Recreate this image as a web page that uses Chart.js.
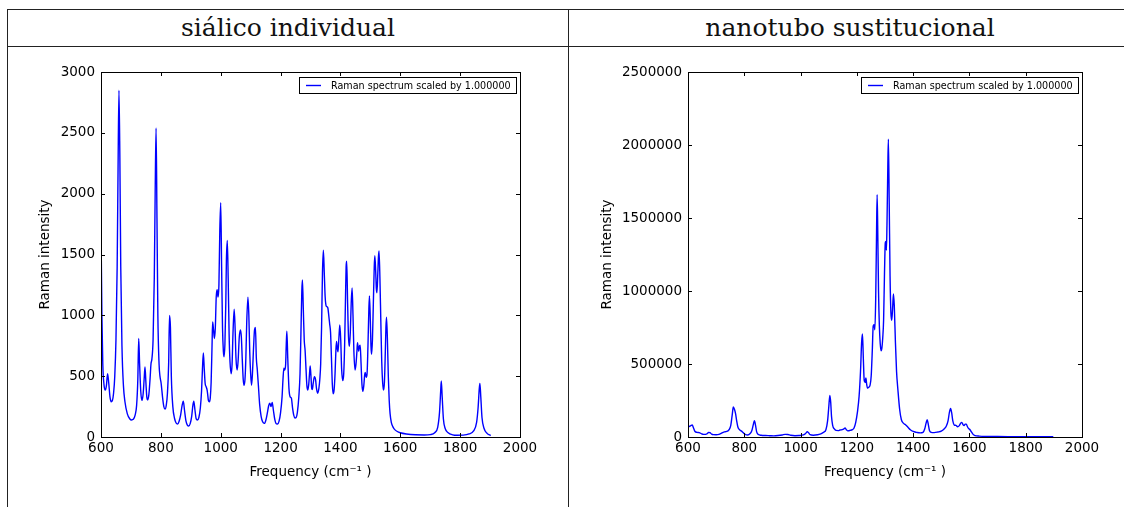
<!DOCTYPE html>
<html lang="es">
<head>
<meta charset="UTF-8">
<title>Espectros Raman</title>
<script src="https://cdn.jsdelivr.net/npm/chart.js"></script>
<style>
  body { margin: 0; width: 1124px; height: 507px; overflow: hidden; background: #fff; position: relative; }
  .rule { position: absolute; background: #222; }
  .head { position: absolute; top: 9px; height: 37px; line-height: 37px; text-align: center;
          font-family: "DejaVu Serif", serif; font-size: 25px; color: #111; }
  canvas { position: absolute; top: 47px; }
</style>
</head>
<body>
<div class="rule" style="left:7px;top:9px;width:1117px;height:1px"></div>
<div class="rule" style="left:7px;top:46px;width:1117px;height:1px"></div>
<div class="rule" style="left:7px;top:9px;width:1px;height:498px"></div>
<div class="rule" style="left:568px;top:9px;width:1px;height:498px"></div>
<div class="head" style="left:8px;width:560px">siálico individual</div>
<div class="head" style="left:569px;width:562px">nanotubo sustitucional</div>

<canvas id="left" width="559" height="460" style="left:8px"></canvas>
<canvas id="right" width="555" height="460" style="left:569px"></canvas>

<script>
// valores: siálico individual
const freqLeft = [600,603,606,610,614,618,622,626,630,634,638,642,646,650,654,657,660,663,666,670,675,680,688,696,702,708,714,719,723,726,729,733,737,741,744,747,750,753,756,760,764,767,770,774,778,781,784,787,790,794,797,801,806,810,814,818,822,826,829,832,835,840,846,851,856,861,866,871,875,879,884,889,893,898,903,907,910,914,918,922,927,932,936,939,942,945,948,951,955,959,962,965,968,971,973,976,979,982,985,988,991,994,997,1000,1003,1006,1009,1011,1014,1017,1019,1022,1025,1028,1031,1035,1038,1041,1045,1048,1051,1055,1058,1062,1066,1069,1072,1075,1078,1081,1084,1087,1091,1094,1097,1100,1103,1106,1110,1113,1116,1119,1122,1126,1130,1135,1140,1146,1151,1156,1160,1164,1168,1172,1176,1181,1186,1190,1195,1200,1205,1208,1211,1214,1217,1219,1221,1224,1228,1232,1236,1240,1244,1248,1252,1256,1261,1265,1268,1271,1273,1276,1279,1282,1285,1288,1291,1294,1297,1299,1302,1304,1306,1309,1313,1317,1320,1324,1328,1331,1334,1337,1340,1343,1346,1349,1352,1355,1358,1361,1364,1367,1370,1373,1376,1379,1382,1385,1387,1390,1392,1395,1398,1401,1404,1408,1411,1414,1417,1419,1421,1424,1427,1430,1433,1436,1439,1442,1445,1449,1452,1455,1457,1459,1461,1463,1466,1469,1472,1475,1478,1481,1483,1486,1489,1492,1495,1497,1500,1502,1504,1507,1510,1513,1515,1518,1520,1522,1525,1527,1529,1532,1535,1538,1541,1544,1547,1550,1552,1554,1557,1560,1563,1566,1570,1575,1580,1590,1600,1620,1650,1680,1700,1715,1725,1731,1735,1737,1740,1744,1750,1760,1775,1790,1810,1830,1845,1855,1860,1864,1866,1869,1873,1880,1890,1902];
const ramanLeft = [1730,1000,600,430,385,420,520,440,330,290,300,360,500,800,1400,2200,2850,2300,1400,750,420,290,190,150,140,145,180,260,470,810,600,370,300,360,470,575,450,330,305,350,480,600,640,800,1300,2000,2540,1800,1000,600,500,440,320,250,230,260,360,600,1000,900,500,250,150,115,107,130,180,260,295,220,130,95,90,110,170,260,295,220,150,140,160,240,380,560,690,560,440,415,380,300,290,320,450,750,945,880,810,900,1150,1210,1150,1250,1700,1925,1400,900,700,660,760,1100,1450,1615,1300,850,620,520,600,850,1050,900,650,550,620,820,880,820,640,480,425,470,650,950,1150,1000,700,520,425,520,750,880,900,650,560,420,270,170,125,112,140,200,255,278,250,285,220,140,108,107,130,200,330,470,565,550,600,760,870,650,400,330,320,240,180,156,160,200,330,520,850,1200,1290,1050,800,710,560,420,386,430,530,585,480,400,390,440,495,470,400,360,400,470,600,900,1350,1535,1350,1150,1080,1070,1060,1000,930,860,650,430,355,390,520,720,785,720,700,820,920,800,560,463,520,750,1150,1400,1445,1100,820,745,860,1100,1225,1000,700,550,600,700,775,740,705,740,755,600,430,375,420,510,530,490,520,750,1050,1160,950,750,680,800,1100,1400,1490,1350,1220,1185,1350,1480,1530,1300,950,620,450,385,450,700,900,985,800,500,300,190,120,85,65,45,35,25,18,17,20,35,80,200,380,460,330,150,70,35,18,14,15,25,50,120,240,400,440,330,160,70,30,12];

// valores: nanotubo sustitucional
const freqRight = [600,605,610,615,620,625,632,640,648,655,662,668,673,678,684,690,700,710,718,725,732,740,746,752,757,761,765,769,773,777,782,790,797,805,812,820,827,832,836,840,844,850,860,875,890,905,920,935,945,955,965,980,995,1010,1018,1024,1028,1034,1045,1060,1072,1082,1090,1096,1100,1104,1107,1110,1114,1120,1126,1134,1140,1148,1154,1158,1162,1168,1176,1184,1190,1196,1202,1208,1213,1217,1220,1223,1226,1229,1232,1235,1238,1242,1247,1251,1255,1258,1261,1264,1267,1270,1272,1274,1277,1280,1283,1286,1289,1292,1295,1298,1301,1303,1305,1307,1310,1312,1315,1318,1321,1324,1327,1330,1333,1337,1341,1346,1352,1358,1365,1372,1380,1390,1400,1412,1425,1435,1441,1446,1450,1454,1458,1464,1475,1488,1500,1510,1518,1524,1529,1533,1537,1541,1546,1552,1558,1564,1569,1573,1577,1581,1585,1589,1593,1597,1602,1607,1613,1620,1635,1660,1700,1750,1800,1850,1898];
const ramanRight = [82000,72000,78000,82000,60000,38000,32000,30000,22000,18000,18000,22000,32000,30000,20000,16000,15000,18000,25000,32000,36000,40000,50000,80000,150000,205000,190000,160000,110000,70000,52000,40000,28000,16000,14000,22000,45000,85000,112000,80000,35000,17000,12000,10000,9000,8000,10000,14000,18000,17000,12000,9000,10000,14000,24000,36000,30000,16000,12000,15000,22000,32000,50000,110000,200000,285000,240000,140000,80000,55000,45000,44000,48000,50000,56000,62000,52000,42000,45000,50000,62000,100000,170000,280000,450000,650000,705000,540000,390000,375000,405000,360000,335000,340000,355000,420000,600000,760000,770000,735000,950000,1400000,1660000,1450000,1000000,760000,640000,590000,610000,680000,800000,1100000,1330000,1340000,1280000,1450000,1850000,2040000,1600000,1100000,850000,800000,880000,980000,900000,650000,450000,320000,190000,120000,95000,85000,70000,50000,38000,32000,28000,32000,55000,95000,118000,85000,45000,32000,30000,34000,40000,55000,75000,110000,170000,195000,165000,110000,82000,80000,70000,78000,95000,100000,85000,78000,88000,88000,70000,58000,50000,35000,18000,10000,6000,4000,3000,2500,2000,2000,1500];

const seriesLabel = 'Raman spectrum scaled by 1.000000';
const xTicksMin = 600, xTicksMax = 2000, xTickStep = 200;

// marco con ticks hacia dentro y leyenda con caja, estilo matplotlib
const frame = {
    id: 'frame',
    afterDraw(chart) {
        const ctx = chart.ctx, a = chart.chartArea;
        const sx = chart.scales.x, sy = chart.scales.y;
        ctx.save();
        ctx.strokeStyle = '#000';
        ctx.lineWidth = 1;
        ctx.beginPath();
        sx.ticks.forEach(t => {
            const px = Math.round(sx.getPixelForValue(t.value)) + 0.5;
            ctx.moveTo(px, a.bottom); ctx.lineTo(px, a.bottom - 4);
            ctx.moveTo(px, a.top); ctx.lineTo(px, a.top + 4);
        });
        sy.ticks.forEach(t => {
            const py = Math.round(sy.getPixelForValue(t.value)) + 0.5;
            ctx.moveTo(a.left, py); ctx.lineTo(a.left + 4, py);
            ctx.moveTo(a.right, py); ctx.lineTo(a.right - 4, py);
        });
        ctx.stroke();
        ctx.strokeRect(Math.round(a.left) + 0.5, Math.round(a.top) + 0.5,
                       Math.round(a.right - a.left), Math.round(a.bottom - a.top));

        // leyenda
        const ds = chart.data.datasets[0];
        ctx.font = '9.6px "DejaVu Sans"';
        const w = Math.round(ctx.measureText(ds.label).width) + 37, h = 16;
        const x = Math.round(a.right) - 4 - w, y = Math.round(a.top) + 5;
        ctx.fillStyle = '#fff';
        ctx.fillRect(x, y, w, h);
        ctx.strokeRect(x + 0.5, y + 0.5, w, h);
        ctx.strokeStyle = ds.borderColor;
        ctx.lineWidth = 1.4;
        ctx.beginPath();
        ctx.moveTo(x + 7, y + 8.5); ctx.lineTo(x + 22, y + 8.5);
        ctx.stroke();
        ctx.fillStyle = '#000';
        ctx.textBaseline = 'middle';
        ctx.fillText(ds.label, x + 32, y + 9);
        ctx.restore();
    }
};

function makeChart(id, freq, vals, yMax, yStep, yWidth, rightPad, titlePad) {
    const ctx = document.getElementById(id).getContext('2d');
    return new Chart(ctx, {
        type: 'line',
        data: {
            datasets: [{
                label: seriesLabel,
                data: freq.map((f, i) => ({ x: f, y: vals[i] })),
                borderColor: 'rgb(0, 0, 255)',
                borderWidth: 1.4,
                pointRadius: 0,
                fill: false,
                cubicInterpolationMode: 'monotone'
            }]
        },
        options: {
            responsive: false,
            animation: false,
            layout: { padding: { top: 25, right: rightPad, left: 0, bottom: 0 } },
            plugins: { legend: { display: false }, tooltip: { enabled: false } },
            scales: {
                x: {
                    type: 'linear',
                    min: xTicksMin,
                    max: xTicksMax,
                    grid: { display: false, drawTicks: false },
                    border: { display: false },
                    ticks: { stepSize: xTickStep, color: '#000', padding: 3, maxRotation: 0,
                             font: { family: 'DejaVu Sans', size: 13.5 }, callback: v => String(v) },
                    title: { display: true, text: 'Frequency (cm⁻¹ )', color: '#000',
                             font: { family: 'DejaVu Sans', size: 13.5 }, padding: { top: 0, bottom: 26 } },
                    afterFit: s => { s.height = 70; }
                },
                y: {
                    min: 0,
                    max: yMax,
                    grid: { display: false, drawTicks: false },
                    border: { display: false },
                    ticks: { stepSize: yStep, color: '#000', padding: 6,
                             font: { family: 'DejaVu Sans', size: 13.5 }, callback: v => String(v) },
                    title: { display: true, text: 'Raman intensity', color: '#000',
                             font: { family: 'DejaVu Sans', size: 13.5 }, padding: { top: titlePad, bottom: 0 } },
                    afterFit: s => { s.width = yWidth; }
                }
            }
        },
        plugins: [frame]
    });
}

makeChart('left', freqLeft, ramanLeft, 3000, 500, 93, 47, 29);
makeChart('right', freqRight, ramanRight, 2500000, 500000, 119, 42, 30);
</script>
</body>
</html>
